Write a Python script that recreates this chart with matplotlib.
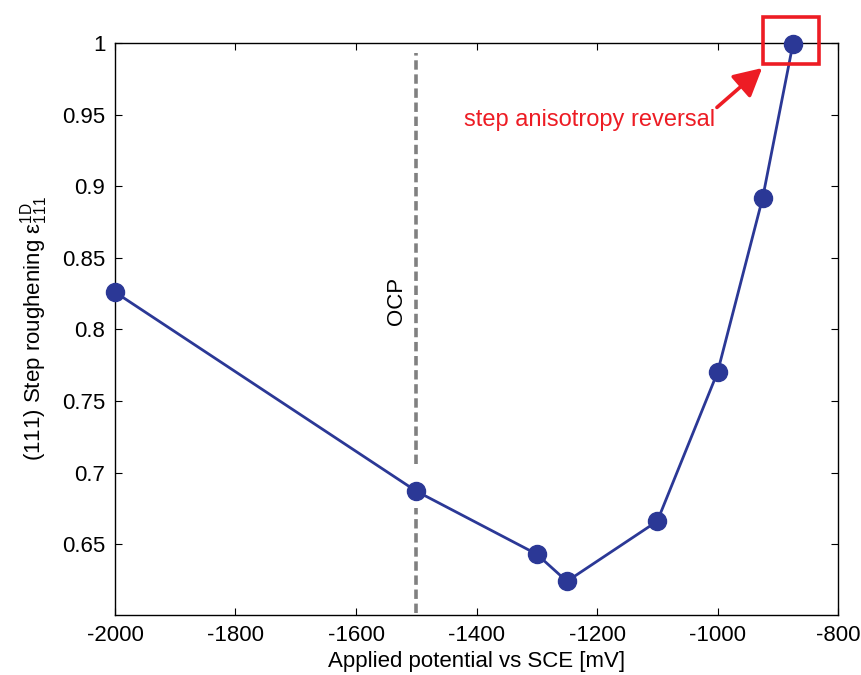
import matplotlib
matplotlib.use('Agg')
import matplotlib.pyplot as plt
from matplotlib.patches import Rectangle

plt.rcParams['font.family'] = ['Liberation Sans', 'DejaVu Sans']
plt.rcParams['mathtext.fontset'] = 'custom'
plt.rcParams['mathtext.rm'] = 'Liberation Sans'
plt.rcParams['mathtext.it'] = 'Liberation Sans'
plt.rcParams['axes.unicode_minus'] = False

# 施加电位 (mV vs SCE) 与 (111) 台阶粗糙度
potential = [-2000, -1500, -1300, -1250, -1100, -1000, -925, -875]
roughening = [0.826, 0.687, 0.643, 0.624, 0.666, 0.770, 0.892, 0.999]

ocp_potential = -1500
x_ticks = [-2000, -1800, -1600, -1400, -1200, -1000, -800]
y_ticks = [0.65, 0.7, 0.75, 0.8, 0.85, 0.9, 0.95, 1.0]
y_tick_labels = ['0.65', '0.7', '0.75', '0.8', '0.85', '0.9', '0.95', '1']

BLUE = '#2B3896'
RED = '#ED1C24'

fig = plt.figure(figsize=(8.62, 6.75), dpi=100)
ax = fig.add_axes([0.1334, 0.0889, 0.8388, 0.8474])

# OCP 竖虚线，在数据点处断开
for y0, y1 in [(0.602, 0.675), (0.706, 0.993)]:
    ax.plot([ocp_potential, ocp_potential], [y0, y1], color='#808080',
            linewidth=2.6, linestyle=(0, (2.6, 1.3)), zorder=1)
ax.text(ocp_potential - 32, 0.82, 'OCP', rotation=90, ha='center', va='center',
        fontsize=16)

ax.plot(potential, roughening, color=BLUE, linewidth=2.0, marker='o',
        markersize=13, markerfacecolor=BLUE, markeredgecolor=BLUE, zorder=3,
        clip_on=False)

# 台阶各向异性反转标注
ax.add_patch(Rectangle((-924, 0.985), 92, 0.033, fill=False, edgecolor=RED,
                       linewidth=2.6, clip_on=False, zorder=4))
ax.annotate('', xy=(-926, 0.9825), xytext=(-1001, 0.955),
            arrowprops=dict(arrowstyle='-|>,head_length=0.85,head_width=0.45',
                            mutation_scale=20, color=RED, linewidth=2.6,
                            shrinkA=0, shrinkB=0))
ax.text(-1004, 0.946, 'step anisotropy reversal', color=RED, fontsize=17,
        ha='right', va='center')

ax.set_xlim(-2000, -800)
ax.set_ylim(0.6005, 1.0)
ax.set_xticks(x_ticks)
ax.set_yticks(y_ticks)
ax.set_yticklabels(y_tick_labels)
ax.tick_params(direction='in', length=5, width=0.8, labelsize=16, top=True,
               right=True, pad=7)
for spine in ax.spines.values():
    spine.set_linewidth(1.0)

ax.set_xlabel('Applied potential vs SCE [mV]', fontsize=16, labelpad=4)
ax.set_ylabel(r'(111) Step roughening ε$_{\mathrm{111}}^{\mathrm{1D}}$', fontsize=16,
              labelpad=9)

plt.savefig('out.png', dpi=100)
plt.close()
